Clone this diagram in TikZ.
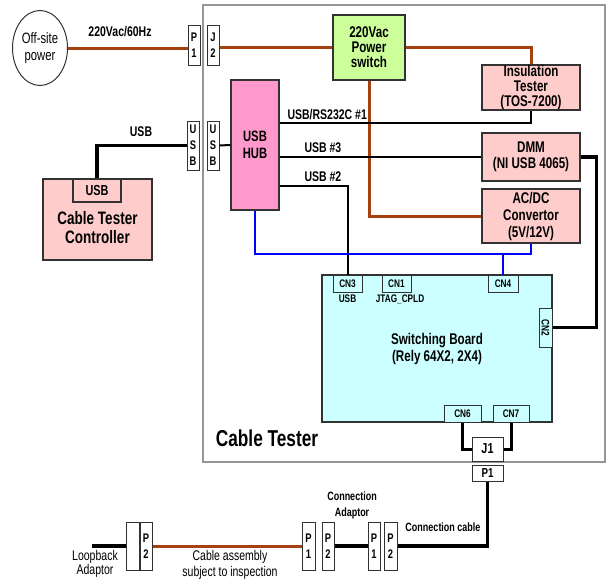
\documentclass[tikz,border=0pt]{standalone}
\usepackage{fontspec}
\usepackage{graphicx}
\usetikzlibrary{shapes.geometric}
\setmainfont{Liberation Sans}[FakeStretch=0.75]
\newcommand\fsz[2]{\fontsize{#1}{#2}\selectfont}
\definecolor{cbrown}{RGB}{165,65,15}
\definecolor{cpink}{RGB}{255,204,204}
\definecolor{chub}{RGB}{255,153,204}
\definecolor{cgreen}{RGB}{204,255,153}
\definecolor{ccyan}{RGB}{204,255,255}
\definecolor{cframe}{RGB}{150,150,150}
\definecolor{cedge}{RGB}{50,50,50}
\tikzset{
  box/.style={draw=cedge,line width=1.2pt,inner sep=0pt,align=center,font=\bfseries\fsz{15.5}{15}},
  conn/.style={draw=cedge,line width=1pt,fill=white,inner sep=0pt,align=center,minimum width=12pt,minimum height=40pt,font=\bfseries\fsz{12.5}{16}},
  cn/.style={draw=cedge,line width=1pt,fill=ccyan,inner sep=0pt,minimum height=17pt,font=\bfseries\fsz{11}{10}},
  lbl/.style={font=\bfseries\fsz{14}{14}},
  power/.style={cbrown,line width=3pt},
  usbline/.style={black,line width=2pt},
  thickline/.style={black,line width=3.5pt},
  busline/.style={blue,line width=2.5pt}
}

\begin{document}
\begin{tikzpicture}[x=1pt,y=-1pt]
    \useasboundingbox (0,0) rectangle (606,581);
    \draw[cframe,line width=1.2pt] (203,5) rectangle (605,462);

    \node[ellipse,draw=cedge,line width=1pt,inner sep=0pt,minimum width=55pt,minimum height=75pt,align=center,font=\fsz{15}{17}] (offsite) at (40,48) {Off-site\\power};
    \node[conn] (pin) at (194,45) {P\\1};
    \node[conn] (jin) at (213,45) {J\\2};
    \node[box,fill=cgreen,minimum width=72pt,minimum height=65pt] (pw) at (369,47.5) {220Vac\\Power\\switch};
    \node[box,fill=cpink,minimum width=98pt,minimum height=45pt] (ins) at (531,87.5) {Insulation\\Tester\\(TOS-7200)};
    \node[box,fill=cpink,minimum width=98pt,minimum height=48pt,font=\bfseries\fsz{15.5}{16}] (dmm) at (531,157) {DMM\\(NI USB 4065)};
    \node[box,fill=cpink,minimum width=98pt,minimum height=54pt,font=\bfseries\fsz{15.5}{17}] (acdc) at (531,216) {AC/DC\\Convertor\\(5V/12V)};
    \node[box,fill=chub,minimum width=48pt,minimum height=130pt,font=\bfseries\fsz{15}{17}] (hub) at (255,145) {USB\\HUB};
    \node[conn,minimum height=49pt] (usbL) at (193,145.5) {U\\S\\B};
    \node[conn,minimum height=49pt] (usbR) at (213,145.5) {U\\S\\B};

    \node[box,fill=cpink,minimum width=109pt,minimum height=81pt] (ctrl) at (97.5,219.5) {};
    \node[box,fill=cpink,minimum width=48pt,minimum height=23pt,font=\bfseries\fsz{14.5}{15}] (ctrlusb) at (97,190.5) {USB};
    \node[align=center,font=\bfseries\fsz{18}{19}] (ctrltxt) at (97.5,228) {Cable Tester\\Controller};

    \node[box,fill=ccyan,minimum width=230pt,minimum height=147pt,font=\bfseries\fsz{15.5}{17}] (board) at (437,348.5) {Switching Board\\(Rely 64X2, 2X4)};
    \node[cn,minimum width=29pt] (cn3) at (347.5,283.5) {CN3};
    \node[cn,minimum width=29pt] (cn1) at (396.5,283.5) {CN1};
    \node[cn,minimum width=30pt] (cn4) at (503,283.5) {CN4};
    \node[cn,minimum width=13pt,minimum height=39pt] (cn2) at (545.5,327.5) {\rotatebox{-90}{CN2}};
    \node[cn,minimum width=37pt] (cn6) at (462.5,413.5) {CN6};
    \node[cn,minimum width=36pt] (cn7) at (511,413.5) {CN7};
    \node[font=\bfseries\fsz{11}{10}] (usbtag) at (347.5,299) {USB};
    \node[font=\bfseries\fsz{11}{10}] (jtag) at (400,299) {JTAG\_CPLD};
    \node[conn,minimum width=31pt,minimum height=24pt,font=\bfseries\fsz{14.5}{15}] (j1) at (487.5,449) {J1};
    \node[conn,minimum width=31pt,minimum height=16pt,font=\bfseries\fsz{13}{14}] (p1low) at (487.5,473) {P1};
    \node[font=\bfseries\fsz{23}{24}] (tester) at (267,438) {Cable Tester};

    \node[conn,minimum width=13pt,minimum height=48pt] (blank) at (132.5,546) {};
    \node[conn,minimum height=48pt] (p2a) at (146,546) {P\\2};
    \node[conn,minimum width=13pt,minimum height=48pt] (p1b) at (308.5,546) {P\\1};
    \node[conn,minimum height=48pt] (p2b) at (328,546) {P\\2};
    \node[conn,minimum height=48pt] (p1c) at (374,546) {P\\1};
    \node[conn,minimum width=13pt,minimum height=48pt] (p2c) at (390.5,546) {P\\2};
    \coordinate (loop) at (92,546);

    \draw[power] (offsite.east) -- (offsite.east -| pin.west);
    \draw[power] (jin.east |- pw.west) -- (pw.west);
    \draw[power] (pw.east) -| (ins.north);
    \draw[power] (pw.south) |- (acdc.west);
    \node[lbl] (acl) at (120,32) {220Vac/60Hz};

    \draw[thickline] (ctrlusb.north) |- (usbL.west);
    \draw[usbline] (usbR.east) -- (hub.west);
    \node[lbl] (usbl) at (141,132) {USB};
    \draw[usbline] ([yshift=22pt]hub.east) -| (ins.south);
    \draw[usbline] (hub.east |- dmm.west) -- (dmm.west);
    \draw[usbline] ([yshift=-41pt]hub.east) -| (cn3.north);
    \node[lbl,anchor=west] (u1) at (284,115) {USB/RS232C \#1};
    \node[lbl,anchor=west] (u3) at (301,148) {USB \#3};
    \node[lbl,anchor=west] (u2) at (301,177) {USB \#2};

    \coordinate (bus) at (503,254);
    \draw[busline] (hub.south) |- (acdc.south |- bus) -- (acdc.south);
    \draw[busline] (bus) -- (cn4.north);

    \draw[thickline] (dmm.east) -- ++(16,0) |- (cn2.east);
    \draw[line width=3pt] (cn6.south) |- (j1.west);
    \draw[line width=3pt] (cn7.south) |- (j1.east);

    \draw[thickline] (loop) -- (blank.west);
    \draw[power] (p2a.east) -- (p1b.west);
    \draw[thickline] (p2b.east) -- (p1c.west);
    \draw[thickline] (p1low.south) |- (p2c.east);
    \node[align=center,font=\fsz{14}{14}] (lbk) at (95,564) {Loopback\\Adaptor};
    \node[align=center,font=\fsz{14}{16}] (cab) at (230,565) {Cable assembly\\subject to inspection};
    \node[align=center,font=\bfseries\fsz{12}{16}] (cad) at (352,505) {Connection\\Adaptor};
    \node[font=\bfseries\fsz{12}{12}] (ccab) at (443,527) {Connection cable};
\end{tikzpicture}
\end{document}
